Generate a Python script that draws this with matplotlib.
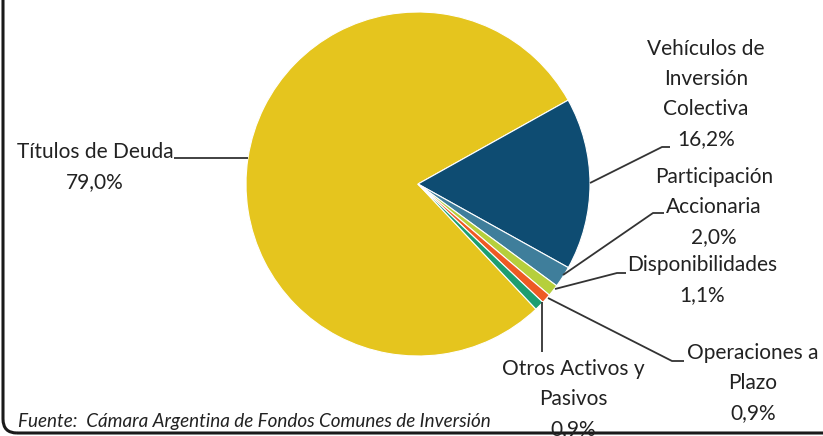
import matplotlib
matplotlib.use("Agg")
import matplotlib.pyplot as plt
from matplotlib.patches import FancyBboxPatch

# data
labels = ["Títulos de Deuda", "Vehículos de\nInversión\nColectiva",
          "Participación\nAccionaria", "Disponibilidades",
          "Operaciones a\nPlazo", "Otros Activos y\nPasivos"]
values = [79.0, 16.2, 2.0, 1.1, 0.9, 0.9]
pct_text = ["79,0%", "16,2%", "2,0%", "1,1%", "0,9%", "0,9%"]
colors = ["#E5C51E", "#0E4C72", "#3F7E9B", "#B6CF3C", "#EE5A24", "#1C9E70"]
source = "Fuente:  Cámara Argentina de Fondos Comunes de Inversión"

W, H = 823, 436
plt.rcParams['font.family'] = ['Lato', 'DejaVu Sans']

fig = plt.figure(figsize=(W / 100, H / 100), dpi=100)
ax = fig.add_axes([0, 0, 1, 1])

def Y(py):
    # pixel row -> data y
    return H - py

cx, cy, r = 418, Y(184), 172
ax.pie(values, colors=colors, center=(cx, cy), radius=r, startangle=-46.7,
       counterclock=False, wedgeprops=dict(edgecolor="white", linewidth=0.8),
       frame=True)
ax.set_xlim(0, W)
ax.set_ylim(0, H)
ax.set_aspect("equal")
ax.axis("off")

# leader lines (pixel coords)
leaders = [
    [(174, 158), (248, 158)],
    [(590, 183), (662, 147), (670, 147)],
    [(563, 275), (653, 213), (664, 213)],
    [(555, 289), (617, 273), (626, 273)],
    [(548, 298), (672, 361), (684, 361)],
    [(542, 302), (542, 352)],
]
for pts in leaders:
    ax.plot([p[0] for p in pts], [Y(p[1]) for p in pts], color="#333333", lw=1.3,
            solid_capstyle="butt")

fs = 15
txt_pos = [(95, 167), (706, 94), (714, 207), (702, 280), (753, 383), (573, 399)]
for lab, pc, (tx, ty) in zip(labels, pct_text, txt_pos):
    ax.text(tx, Y(ty), lab + "\n" + pc, ha="center", va="center", fontsize=fs,
            color="#222222", linespacing=1.62)

ax.text(18, Y(421), source, ha="left", va="center", fontsize=13.6,
        style="italic", color="#222222")

# rounded frame (only left and bottom edges visible)
frame = FancyBboxPatch((3, Y(433)), 1200, 1000,
                       boxstyle="round,pad=0,rounding_size=14",
                       fill=False, edgecolor="#1a1a1a", linewidth=2.2,
                       clip_on=False)
ax.add_patch(frame)

fig.savefig("out.png", dpi=100)
